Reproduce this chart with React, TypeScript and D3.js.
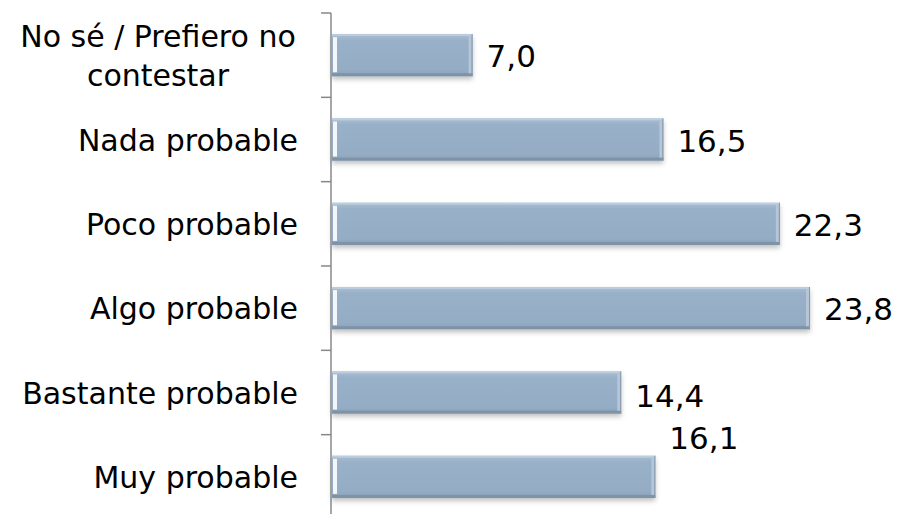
import * as d3 from "d3";

// categories top to bottom, as in the chart
const categories = [
  "No sé / Prefiero no contestar",
  "Nada probable",
  "Poco probable",
  "Algo probable",
  "Bastante probable",
  "Muy probable",
];
const values = [7.0, 16.5, 22.3, 23.8, 14.4, 16.1];
const valueLabels = ["7,0", "16,5", "22,3", "23,8", "14,4", "16,1"];
// wrapped category labels
const labelLines = [
  ["No sé / Prefiero no", "contestar"],
  ["Nada probable"],
  ["Poco probable"],
  ["Algo probable"],
  ["Bastante probable"],
  ["Muy probable"],
];

const W = 897;
const H = 514;
const FONT = "'DejaVu Sans', 'Open Sans', sans-serif";

export default function App() {
  const axisX = 331;
  const x = d3.scaleLinear().domain([0, 23.8]).range([axisX + 1, 810]);
  const y = d3
    .scaleBand<string>()
    .domain(categories)
    .range([13, 519])
    .paddingInner(0.5)
    .paddingOuter(0.25);
  const band = (519 - 13) / categories.length;
  const ticks = d3.range(categories.length + 1).map((i) => 13 + i * band);

  return (
    <svg
      width={W}
      height={H}
      style={{ position: "absolute", left: 0, top: 0, display: "block", background: "#fff" }}
    >
      <defs>
        <linearGradient id="barFill" x1="0" y1="0" x2="0" y2="1">
          <stop offset="0" stopColor="#a8bdd2" />
          <stop offset="0.15" stopColor="#99b1c8" />
          <stop offset="0.85" stopColor="#94acc4" />
          <stop offset="1" stopColor="#8aa1b8" />
        </linearGradient>
        <filter id="shadow" x="-5%" y="-20%" width="110%" height="160%">
          <feDropShadow dx="0" dy="3" stdDeviation="2.5" floodColor="#000" floodOpacity="0.25" />
        </filter>
      </defs>

      {/* bars */}
      {categories.map((c, i) => {
        const x0 = x(0);
        const x1 = x(values[i]);
        const y0 = y(c)!;
        const h = y.bandwidth();
        const w = x1 - x0;
        return (
          <g key={c}>
            <rect x={x0} y={y0} width={w} height={h} fill="url(#barFill)" filter="url(#shadow)" />
            {/* bevel edges */}
            <rect x={x0} y={y0} width={w} height={2} fill="#bccdde" />
            <rect x={x0} y={y0 + h - 3} width={w} height={3} fill="#7f93a7" />
            <rect x={x0 + 1} y={y0 + 3} width={4} height={h - 7} fill="#f3f7fb" />
            <rect x={x1 - 4} y={y0 + 2} width={3} height={h - 5} fill="#b4c6d8" />
            <rect x={x1 - 1} y={y0} width={1} height={h} fill="#8799ab" />
          </g>
        );
      })}

      {/* axis */}
      <line x1={axisX} x2={axisX} y1={13} y2={519} stroke="#888" strokeWidth={1.5} />
      {ticks.map((t, i) => (
        <line key={i} x1={axisX - 10} x2={axisX} y1={t} y2={t} stroke="#888" strokeWidth={1.5} />
      ))}

      {/* category labels */}
      {categories.map((c, i) => {
        const cy = y(c)! + y.bandwidth() / 2;
        const lines = labelLines[i];
        if (lines.length === 1) {
          return (
            <text key={c} x={298} y={cy + 11} textAnchor="end" fontFamily={FONT} fontSize={30} fill="#000">
              {lines[0]}
            </text>
          );
        }
        return (
          <text key={c} x={158} y={cy - 8} textAnchor="middle" fontFamily={FONT} fontSize={30} fill="#000">
            {lines.map((l, k) => (
              <tspan key={k} x={158} dy={k === 0 ? 0 : 39}>
                {l}
              </tspan>
            ))}
          </text>
        );
      })}

      {/* value labels */}
      {categories.map((c, i) => {
        const cy = y(c)! + y.bandwidth() / 2;
        const shift = i === categories.length - 1 ? -40 : i === 4 ? 2 : 0;
        return (
          <text
            key={c}
            x={x(values[i]) + 14}
            y={cy + 12 + shift}
            fontFamily={FONT}
            fontSize={31}
            fill="#000"
          >
            {valueLabels[i]}
          </text>
        );
      })}
    </svg>
  );
}
